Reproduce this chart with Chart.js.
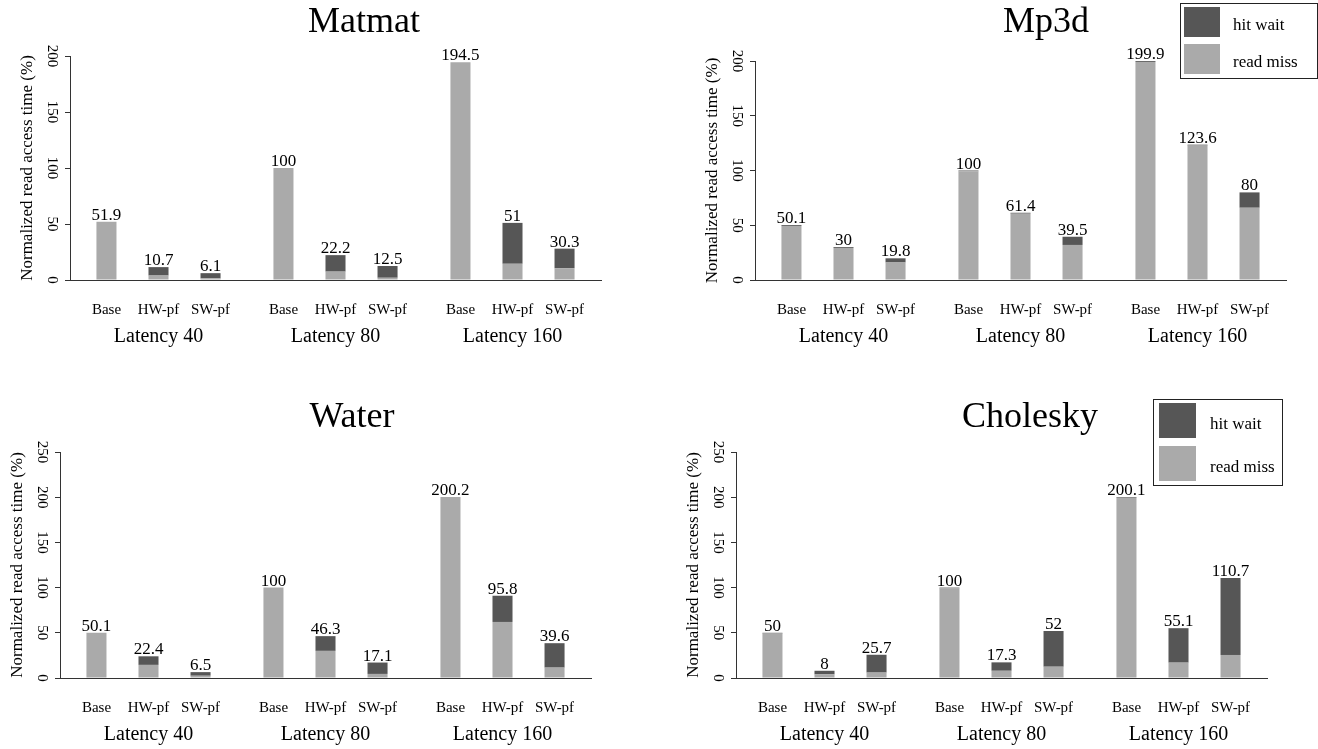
<!DOCTYPE html>
<html>
<head>
<meta charset="utf-8">
<script src="https://cdn.jsdelivr.net/npm/chart.js@4.4.1/dist/chart.umd.min.js"></script>
<style>
body { margin: 0; background: #fff; width: 1318px; height: 749px; position: relative; overflow: hidden; }
canvas { position: absolute; }
</style>
</head>
<body>
<canvas id="matmat" width="659" height="374" style="left:0;top:0"></canvas>
<canvas id="mp3d" width="659" height="374" style="left:659px;top:0"></canvas>
<canvas id="water" width="659" height="375" style="left:0;top:374px"></canvas>
<canvas id="cholesky" width="659" height="375" style="left:659px;top:374px"></canvas>
<script>
// groups on the x axis, three bars in each
var groups = ['Latency 40', 'Latency 80', 'Latency 160'];
var configs = ['Base', 'HW-pf', 'SW-pf'];

// bar order: L40 Base, HW, SW, L80 Base, HW, SW, L160 Base, HW, SW
var matmatMiss   = [51.9, 4, 1.5, 100, 7.5, 2, 194.5, 14.5, 10.5];
var matmatHit    = [0, 7.5, 4.6, 0, 14.7, 10.5, 0, 36.5, 17.5];
var matmatTotals = ['51.9', '10.7', '6.1', '100', '22.2', '12.5', '194.5', '51', '30.3'];

var mp3dMiss   = [49.3, 29.2, 16, 99.2, 60.6, 32, 199.1, 122.8, 66];
var mp3dHit    = [0.8, 0.8, 3.8, 0.8, 0.8, 7.5, 0.8, 0.8, 14];
var mp3dTotals = ['50.1', '30', '19.8', '100', '61.4', '39.5', '199.9', '123.6', '80'];

var waterMiss   = [50.1, 14.5, 2.5, 100, 30, 4.5, 200.2, 62, 11.5];
var waterHit    = [0, 9.5, 4, 0, 16.3, 12.6, 0, 29, 27];
var waterTotals = ['50.1', '22.4', '6.5', '100', '46.3', '17.1', '200.2', '95.8', '39.6'];

var choleskyMiss   = [49.2, 4, 6, 99.2, 8, 12.5, 199.3, 17, 25.5];
var choleskyHit    = [0.8, 4, 19.7, 0.8, 9.3, 39.5, 0.8, 38.1, 85.2];
var choleskyTotals = ['50', '8', '25.7', '100', '17.3', '52', '200.1', '55.1', '110.7'];

var DARK = '#565656';
var LIGHT = '#aaaaaa';
var FONT = '"Liberation Serif", "Times New Roman", serif';

// titles, bar labels, value labels and the boxed legend
var extras = {
    id: 'extras',
    afterDatasetsDraw: function(chart, args, o) {
        var ctx = chart.ctx;
        var area = chart.chartArea;
        ctx.save();
        ctx.fillStyle = '#000';
        ctx.textAlign = 'center';

        ctx.font = '36px ' + FONT;
        ctx.textBaseline = 'alphabetic';
        ctx.fillText(o.title, o.titleX, o.titleY);

        for (var j = 0; j < configs.length; j++) {
            var missMeta = chart.getDatasetMeta(2 * j);
            var hitMeta = chart.getDatasetMeta(2 * j + 1);
            for (var i = 0; i < groups.length; i++) {
                var bar = hitMeta.data[i];
                ctx.font = '17px ' + FONT;
                ctx.textBaseline = 'alphabetic';
                ctx.fillText(o.totals[i * 3 + j], bar.x, Math.min(bar.y, missMeta.data[i].y) - 2);
                ctx.font = '15px ' + FONT;
                ctx.textBaseline = 'middle';
                ctx.fillText(configs[j], missMeta.data[i].x, area.bottom + 30);
            }
        }

        var lg = o.legend;
        if (lg) {
            ctx.strokeStyle = '#222';
            ctx.lineWidth = 1;
            ctx.strokeRect(lg.x + 0.5, lg.y + 0.5, lg.w, lg.h);
            var items = [chart.data.datasets[1], chart.data.datasets[0]];
            ctx.font = '17px ' + FONT;
            ctx.textAlign = 'left';
            ctx.textBaseline = 'middle';
            items.forEach(function(ds, k) {
                ctx.fillStyle = ds.backgroundColor;
                ctx.fillRect(lg.sqX, lg.rows[k], lg.sqW, lg.sqH);
                ctx.fillStyle = '#000';
                ctx.fillText(ds.label, lg.textX, lg.rows[k] + lg.textDy);
            });
        }
        ctx.restore();
    }
};

function makeChart(id, miss, hit, totals, yMax, p) {
    var datasets = [];
    for (var j = 0; j < configs.length; j++) {
        datasets.push({
            label: 'read miss', stack: configs[j], backgroundColor: LIGHT,
            data: [miss[j], miss[3 + j], miss[6 + j]]
        });
        datasets.push({
            label: 'hit wait', stack: configs[j], backgroundColor: DARK,
            data: [hit[j], hit[3 + j], hit[6 + j]]
        });
    }
    return new Chart(document.getElementById(id), {
        type: 'bar',
        data: { labels: groups, datasets: datasets },
        options: {
            responsive: false,
            animation: false,
            categoryPercentage: 0.882,
            barPercentage: 0.385,
            layout: { padding: p.pad },
            plugins: {
                legend: { display: false },
                tooltip: { enabled: false },
                extras: { title: p.title, titleX: p.titleX, titleY: p.titleY, totals: totals, legend: p.legend }
            },
            scales: {
                x: {
                    stacked: true,
                    grid: { drawOnChartArea: false, drawTicks: false },
                    border: { display: true, color: '#333' },
                    ticks: { color: '#000', padding: 45, maxRotation: 0, autoSkip: false, font: { family: FONT, size: 20 } },
                    afterFit: function(s) { s.height = 70; }
                },
                y: {
                    stacked: true,
                    min: 0, max: yMax,
                    grid: { drawOnChartArea: false, drawTicks: true, tickLength: 5, color: '#333' },
                    border: { display: true, color: '#333' },
                    ticks: { stepSize: 50, color: '#000', padding: 2, minRotation: -90, maxRotation: -90, crossAlign: 'center', font: { family: FONT, size: 15 } },
                    title: { display: true, text: 'Normalized read access time (%)', color: '#000', padding: { top: 4, bottom: 0 }, font: { family: FONT, size: 17 } },
                    afterFit: function(s) { s.width = 57; }
                }
            }
        },
        plugins: [extras]
    });
}

makeChart('matmat', matmatMiss, matmatHit, matmatTotals, 200, {
    title: 'Matmat', titleX: 364, titleY: 32,
    pad: { left: 13, right: 58, top: 56, bottom: 24 },
    legend: null
});
makeChart('mp3d', mp3dMiss, mp3dHit, mp3dTotals, 200, {
    title: 'Mp3d', titleX: 387, titleY: 32,
    pad: { left: 39, right: 32, top: 61, bottom: 24 },
    legend: { x: 521, y: 3, w: 137, h: 75, sqX: 525, sqW: 36, sqH: 30, rows: [7, 44], textX: 574, textDy: 19 }
});
makeChart('water', waterMiss, waterHit, waterTotals, 250, {
    title: 'Water', titleX: 352, titleY: 53,
    pad: { left: 3, right: 68, top: 78, bottom: 1 },
    legend: null
});
makeChart('cholesky', choleskyMiss, choleskyHit, choleskyTotals, 250, {
    title: 'Cholesky', titleX: 371, titleY: 53,
    pad: { left: 20, right: 51, top: 78, bottom: 1 },
    legend: { x: 494, y: 25, w: 129, h: 86, sqX: 500, sqW: 37, sqH: 35, rows: [29, 72], textX: 551, textDy: 22 }
});
</script>
</body>
</html>
